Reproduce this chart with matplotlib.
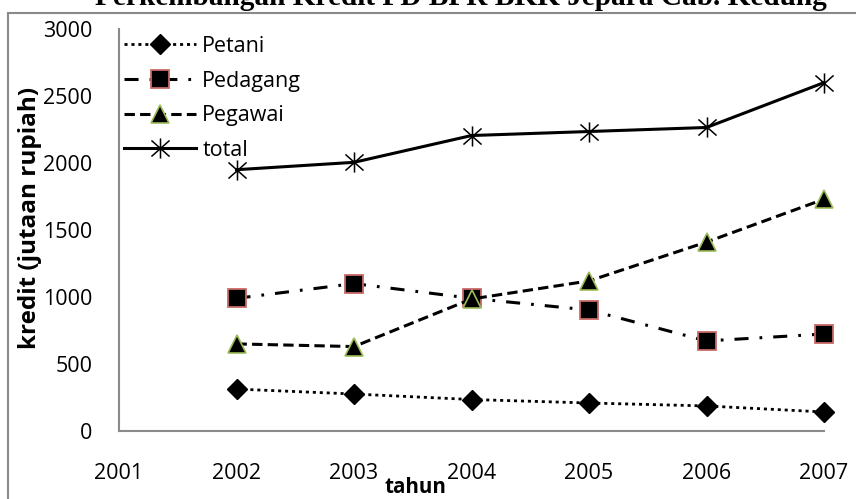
import matplotlib
matplotlib.use("Agg")
import matplotlib.pyplot as plt
from matplotlib.path import Path
from matplotlib.patches import Rectangle

# ---------------- data ----------------
years = [2002, 2003, 2004, 2005, 2006, 2007]
petani = [313, 276, 235, 209, 187, 142]
pedagang = [990, 1100, 990, 903, 672, 724]
pegawai = [650, 630, 985, 1120, 1410, 1730]
total = [1950, 2005, 2205, 2235, 2265, 2600]
series_names = ["Petani", "Pedagang", "Pegawai", "total"]
x_ticks = [2001, 2002, 2003, 2004, 2005, 2006, 2007]
y_ticks = [0, 500, 1000, 1500, 2000, 2500, 3000]
title_text = "Perkembangan Kredit PD BPR BKK Jepara Cab. Kedung"
xlabel_text = "tahun"
ylabel_text = "kredit (jutaan rupiah)"

# ---------------- figure ----------------
W, H = 856, 499
plt.rcParams['font.family'] = ['Open Sans', 'DejaVu Sans']
fig = plt.figure(figsize=(W / 100, H / 100), dpi=100)
fig.patch.set_facecolor('white')

# outer chart frame
fig.patches.append(Rectangle((8 / W, -0.1), 1.2, (1 - 13 / H) + 0.1,
                             transform=fig.transFigure, fill=False,
                             ec='#8a8a8a', lw=1.5, zorder=0))

ax = fig.add_axes([119 / W, 1 - 431 / H, (824 - 119) / W, (431 - 29) / H])
ax.set_xlim(2001, 2007)
ax.set_ylim(0, 3000)
for s in ['top', 'right']:
    ax.spines[s].set_visible(False)
for s in ['left', 'bottom']:
    ax.spines[s].set_color('#8a8a8a')
    ax.spines[s].set_linewidth(1.5)
ax.set_xticks(x_ticks)
ax.set_xticklabels([str(v) for v in x_ticks])
ax.set_yticks(y_ticks)
ax.set_yticklabels([str(v) for v in y_ticks])
ax.tick_params(axis='both', length=0, labelsize=15.5)
ax.tick_params(axis='x', pad=23)
ax.tick_params(axis='y', pad=19)

star = Path([(0, -1), (0, 1), (-0.9, -0.8), (0.9, 0.8), (-0.9, 0.8), (0.9, -0.8)],
            [Path.MOVETO, Path.LINETO, Path.MOVETO, Path.LINETO, Path.MOVETO, Path.LINETO])

l1, = ax.plot(years, petani, color='black', lw=2.0, dashes=(1.1, 1.4),
              marker='D', ms=10, mfc='black', mec='black', mew=1,
              label=series_names[0], clip_on=False)
l2, = ax.plot(years, pedagang, color='black', lw=2.2, dashes=(4.6, 3.6, 0.9, 3.6),
              marker='s', ms=13.5, mfc='black', mec='#c96a67', mew=1.3,
              label=series_names[1], clip_on=False)
l3, = ax.plot(years, pegawai, color='black', lw=2.2, dashes=(3.4, 1.7),
              marker='^', ms=13, mfc='black', mec='#9bbb59', mew=1.2,
              label=series_names[2], clip_on=False)
l4, = ax.plot(years, total, color='black', lw=2.2, linestyle='-',
              marker=star, ms=14.5, mfc='none', mec='black', mew=1.1,
              label=series_names[3], clip_on=False)

leg = fig.legend(handles=[l1, l2, l3, l4], loc='upper left',
                 bbox_to_anchor=(124 / W, 1 - 36 / H), bbox_transform=fig.transFigure,
                 frameon=False, fontsize=15.5, handlelength=3.35,
                 handletextpad=0.28, labelspacing=0.63, borderpad=0,
                 borderaxespad=0)

title = fig.text(460.5 / W, 1 - 5 / H, title_text, ha='center', va='baseline',
                 family=['Liberation Serif', 'DejaVu Serif'], weight='bold', fontsize=20)
ylab = fig.text(30 / W, 1 - 218 / H, ylabel_text, rotation=90, ha='center',
                va='center', weight='bold', fontsize=15)
xlab = fig.text(415 / W, 1 - 493 / H, xlabel_text, ha='center', va='baseline',
                weight='bold', fontsize=15.5)

# fit text lengths to the reference
fig.canvas.draw()
r = fig.canvas.get_renderer()
bb = title.get_window_extent(r)
title.set_fontsize(20 * 731 / bb.width)
bb = ylab.get_window_extent(r)
ylab.set_fontsize(15 * 262 / bb.height)
bb = xlab.get_window_extent(r)
xlab.set_fontsize(15.5 * 62 / bb.width)

fig.savefig('out.png', dpi=100)
